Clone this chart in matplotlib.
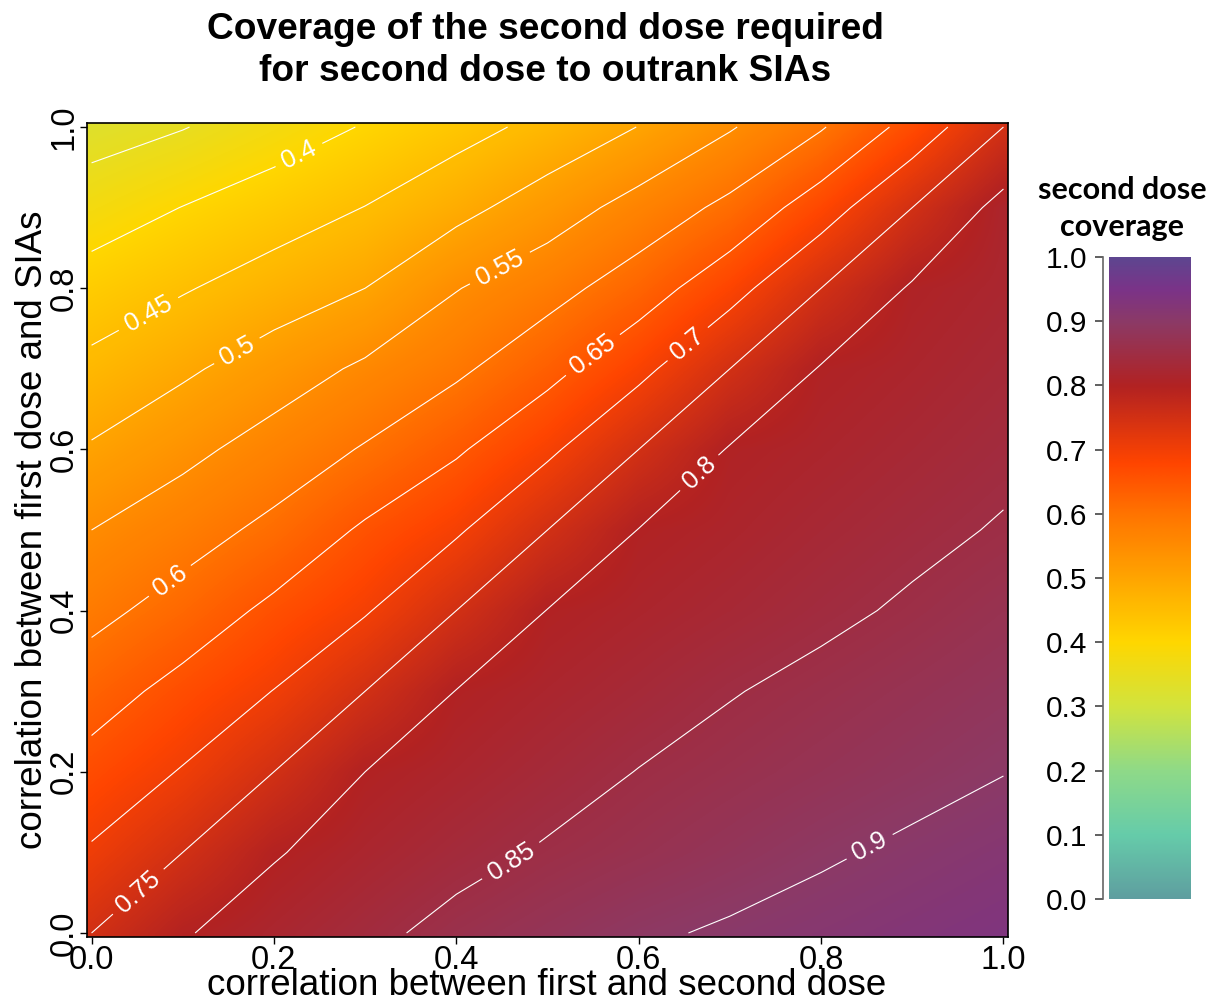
import numpy as np
import matplotlib
matplotlib.use("Agg")
import matplotlib.pyplot as plt
from matplotlib.colors import LinearSegmentedColormap

plt.rcParams["font.family"] = ["Liberation Sans", "DejaVu Sans"]

# ---------------- data ----------------
x_grid = [0.0, 0.1, 0.2, 0.3, 0.4, 0.5, 0.6, 0.7, 0.8, 0.9, 1.0]   # corr first/second dose
y_grid = [0.0, 0.1, 0.2, 0.3, 0.4, 0.5, 0.6, 0.7, 0.8, 0.9, 1.0]   # corr first dose/SIAs

# required second dose coverage, one row per y value (bottom to top)
cov_y00 = [0.750, 0.797, 0.819, 0.840, 0.862, 0.878, 0.894, 0.905, 0.915, 0.925, 0.935]
cov_y01 = [0.705, 0.750, 0.797, 0.818, 0.837, 0.854, 0.867, 0.881, 0.895, 0.907, 0.918]
cov_y02 = [0.668, 0.703, 0.750, 0.800, 0.817, 0.834, 0.851, 0.863, 0.875, 0.887, 0.899]
cov_y03 = [0.628, 0.666, 0.701, 0.750, 0.801, 0.817, 0.832, 0.848, 0.860, 0.872, 0.884]
cov_y04 = [0.586, 0.620, 0.661, 0.696, 0.750, 0.801, 0.815, 0.828, 0.842, 0.855, 0.869]
cov_y05 = [0.550, 0.579, 0.612, 0.657, 0.694, 0.750, 0.801, 0.814, 0.828, 0.841, 0.853]
cov_y06 = [0.505, 0.537, 0.570, 0.604, 0.644, 0.691, 0.750, 0.803, 0.815, 0.828, 0.841]
cov_y07 = [0.462, 0.492, 0.525, 0.558, 0.591, 0.635, 0.687, 0.750, 0.803, 0.816, 0.830]
cov_y08 = [0.421, 0.446, 0.473, 0.500, 0.548, 0.582, 0.625, 0.682, 0.750, 0.805, 0.820]
cov_y09 = [0.375, 0.401, 0.425, 0.451, 0.485, 0.525, 0.568, 0.612, 0.676, 0.750, 0.815]
cov_y10 = [0.330, 0.348, 0.375, 0.403, 0.432, 0.464, 0.501, 0.546, 0.596, 0.668, 0.750]

contour_levels = [0.35, 0.40, 0.45, 0.50, 0.55, 0.60, 0.65, 0.70, 0.75, 0.80, 0.85, 0.90]
# label positions (one per labelled contour: 0.4 ... 0.9)
label_x = [0.228, 0.060, 0.162, 0.452, 0.091, 0.546, 0.655, 0.053, 0.655, 0.458, 0.850]
label_y = [0.964, 0.773, 0.717, 0.816, 0.429, 0.723, 0.729, 0.049, 0.585, 0.093, 0.114]

axis_ticks = [0.0, 0.2, 0.4, 0.6, 0.8, 1.0]
axis_tick_labels = ["0.0", "0.2", "0.4", "0.6", "0.8", "1.0"]
cbar_ticks = [0.0, 0.1, 0.2, 0.3, 0.4, 0.5, 0.6, 0.7, 0.8, 0.9, 1.0]
cbar_tick_labels = ["0.0", "0.1", "0.2", "0.3", "0.4", "0.5", "0.6", "0.7", "0.8", "0.9", "1.0"]

title = "Coverage of the second dose required\nfor second dose to outrank SIAs"
xlabel = "correlation between first and second dose"
ylabel = "correlation between first dose and SIAs"
cbar_title = "second dose\ncoverage"

# colour ramp (value, colour)
ramp_pos = [0.0, 0.1, 0.2, 0.3, 0.4, 0.5, 0.6, 0.68, 0.8, 0.9, 0.95, 1.0]
ramp_col = ["#5F9EA0", "#66CCAA", "#8FDA88", "#D2E43E", "#FFD700", "#FFA500",
            "#FF7400", "#FF4500", "#B22222", "#8C3A66", "#7B3388", "#5E4690"]

# ---------------- figure ----------------
cmap = LinearSegmentedColormap.from_list("cov", list(zip(ramp_pos, ramp_col)), N=512)
Z = np.array([cov_y00, cov_y01, cov_y02, cov_y03, cov_y04, cov_y05,
              cov_y06, cov_y07, cov_y08, cov_y09, cov_y10])
X, Y = np.meshgrid(x_grid, y_grid)

W, H = 1214, 1001
fig = plt.figure(figsize=(W / 100, H / 100), dpi=100)
fig.patch.set_facecolor("white")

def fx(px):
    return px / W

def fy(py):
    return 1 - py / H

ax_l, ax_r, ax_t, ax_b = 87, 1008, 123, 937
ax = fig.add_axes([fx(ax_l), fy(ax_b), (ax_r - ax_l) / W, (ax_b - ax_t) / H])

step = x_grid[1] - x_grid[0]
ax.imshow(Z, origin="lower", cmap=cmap, vmin=0, vmax=1,
          extent=[x_grid[0] - step / 2, x_grid[-1] + step / 2,
                  y_grid[0] - step / 2, y_grid[-1] + step / 2],
          interpolation="bilinear", interpolation_stage="data", aspect="auto")
cs = ax.contour(X, Y, Z, levels=contour_levels, colors="white", linewidths=0.8)
ax.clabel(cs, manual=list(zip(label_x, label_y)), inline=True,
          fontsize=18.5, colors="white", fmt=lambda v: f"{v:g}", inline_spacing=6)

ax.set_xlim(-0.005, 1.005)
ax.set_ylim(-0.005, 1.005)
for s in ax.spines.values():
    s.set_linewidth(1.2)
    s.set_color("black")

tick_font = dict(size=23.5)
ax.set_xticks(axis_ticks)
ax.set_xticklabels(axis_tick_labels, fontdict=tick_font)
ax.set_yticks(axis_ticks)
ax.set_yticklabels(axis_tick_labels, fontdict=tick_font, rotation=90, va="center")
ax.tick_params(axis="both", direction="out", length=5, width=1, pad=0.5)

fig.text(fx(547), fy(995), xlabel, ha="center", va="baseline", size=26.5)
fig.text(fx(33), fy(530), ylabel, ha="center", va="center", rotation=90, size=26.5)
fig.text(fx(545), fy(12), title, ha="center", va="top", linespacing=1.27,
         weight="bold", size=26.7)

# ---------------- colour bar ----------------
cb_l, cb_r, cb_t, cb_b = 1109, 1191, 257, 899
cax = fig.add_axes([fx(cb_l), fy(cb_b), (cb_r - cb_l) / W, (cb_b - cb_t) / H])
grad = np.array(cbar_ticks)[:, None] * np.ones((1, 2))
cax.imshow(grad, origin="lower", cmap=cmap, vmin=0, vmax=1, extent=[0, 1, -0.05, 1.05],
           aspect="auto", interpolation="bilinear", interpolation_stage="data")
cax.set_xlim(0, 1)
cax.set_ylim(0, 1)
for k in ["top", "right", "bottom"]:
    cax.spines[k].set_visible(False)
cax.spines["left"].set_position(("outward", 4.5))
cax.spines["left"].set_color("#666666")
cax.spines["left"].set_linewidth(1.2)
cax.set_xticks([])
cax.set_yticks(cbar_ticks)
cax.set_yticklabels(cbar_tick_labels, size=21.5)
cax.tick_params(axis="y", length=6, width=1.2, color="#444444", pad=5)
fig.text(fx(1122), fy(176), cbar_title, ha="center", va="top", linespacing=1.4,
         family=["Lato", "DejaVu Sans"], weight="bold", size=22)

fig.savefig("out.png", dpi=100, facecolor="white")
